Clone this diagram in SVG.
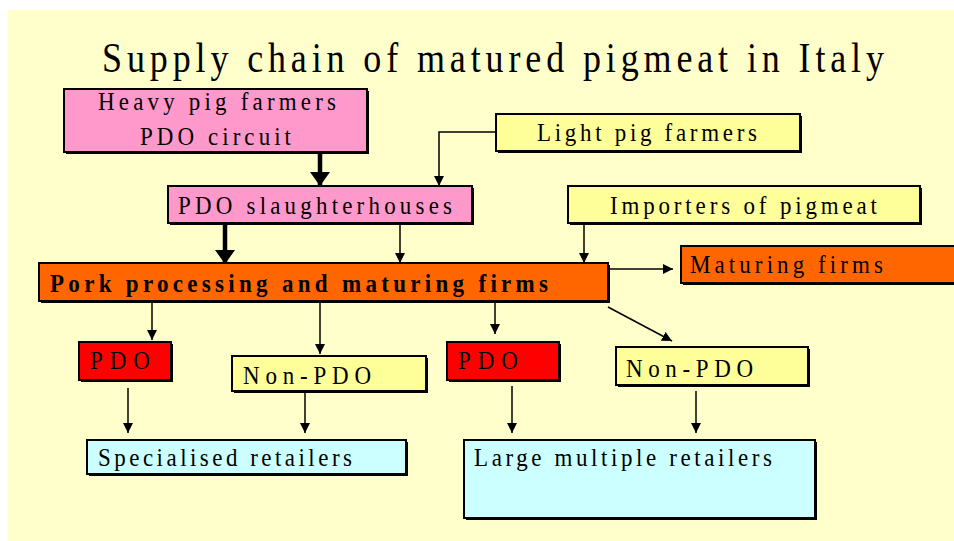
<svg xmlns="http://www.w3.org/2000/svg" width="954" height="541" viewBox="0 0 954 541">
  <defs>
    <marker id="arr" viewBox="0 0 10 10" refX="10" refY="5" markerWidth="10" markerHeight="10" markerUnits="userSpaceOnUse" orient="auto">
      <path d="M0,0 L10,5 L0,10 Z" fill="#000"/>
    </marker>
    <marker id="arrBig" viewBox="0 0 14 20" refX="14" refY="10" markerWidth="14" markerHeight="20" markerUnits="userSpaceOnUse" orient="auto">
      <path d="M0,0 L14,10 L0,20 Z" fill="#000"/>
    </marker>
  </defs>
  <style>
    .shadow { fill: #000; }
    .box { stroke: #000; stroke-width: 2; }
    .pink { fill: #FF99CC; }
    .yellow { fill: #FFFF99; }
    .orange { fill: #FF6600; }
    .red { fill: #FF0000; }
    .cyan { fill: #CCFFFF; }
    .lbl { font-family: "Liberation Serif", "DejaVu Serif", serif; font-size: 23px; fill: #000; }
    .bold { font-weight: bold; }
    .title { font-family: "Liberation Serif", "DejaVu Serif", serif; font-size: 36px; fill: #000; }
    .thin { stroke: #000; stroke-width: 1.5; fill: none; marker-end: url(#arr); }
    .thick { stroke: #000; stroke-width: 4.5; fill: none; marker-end: url(#arrBig); }
  </style>

  <!-- page -->
  <rect x="0" y="0" width="954" height="541" fill="#FFFFFF"/>
  <rect x="8" y="10" width="946" height="531" fill="#FFFFCC"/>

  <text class="title" transform="translate(102,72) scale(1,1.15)" textLength="782" lengthAdjust="spacing">Supply chain of matured pigmeat in Italy</text>

  <!-- connectors -->
  <g id="connectors">
    <path class="thick" d="M320,152 V186"/>
    <path class="thin" d="M496,132 H439 V186"/>
    <path class="thick" d="M225,223 V264"/>
    <path class="thin" d="M400,223 V263"/>
    <path class="thin" d="M584,223 V263"/>
    <path class="thin" d="M608,269 H673"/>
    <path class="thin" d="M152,301 V340"/>
    <path class="thin" d="M320,301 V354"/>
    <path class="thin" d="M495,301 V334"/>
    <path class="thin" d="M608,307 L672,341"/>
    <path class="thin" d="M128,388 V433"/>
    <path class="thin" d="M305,392 V433"/>
    <path class="thin" d="M512,386 V433"/>
    <path class="thin" d="M696,391 V433"/>
  </g>

  <g id="heavy-pig-farmers">
    <rect class="shadow" x="66" y="91" width="303" height="63"/>
    <rect class="box pink" x="64" y="89" width="303" height="63"/>
    <text class="lbl" transform="translate(98,110) scale(1,1.12)" textLength="238" lengthAdjust="spacing">Heavy pig farmers</text>
    <text class="lbl" transform="translate(140,145) scale(1,1.12)" textLength="151" lengthAdjust="spacing">PDO circuit</text>
  </g>

  <g id="light-pig-farmers">
    <rect class="shadow" x="498" y="116" width="304" height="37"/>
    <rect class="box yellow" x="496" y="114" width="304" height="37"/>
    <text class="lbl" transform="translate(537,141) scale(1,1.12)" textLength="220" lengthAdjust="spacing">Light pig farmers</text>
  </g>

  <g id="pdo-slaughterhouses">
    <rect class="shadow" x="170" y="188" width="304" height="37"/>
    <rect class="box pink" x="168" y="186" width="304" height="37"/>
    <text class="lbl" transform="translate(178,214) scale(1,1.12)" textLength="274" lengthAdjust="spacing">PDO slaughterhouses</text>
  </g>

  <g id="importers">
    <rect class="shadow" x="570" y="188" width="352" height="37"/>
    <rect class="box yellow" x="568" y="186" width="352" height="37"/>
    <text class="lbl" transform="translate(610,214) scale(1,1.12)" textLength="267" lengthAdjust="spacing">Importers of pigmeat</text>
  </g>

  <g id="maturing-firms">
    <rect class="shadow" x="683" y="248" width="280" height="37"/>
    <rect class="box orange" x="681" y="246" width="280" height="37"/>
    <text class="lbl" transform="translate(690,273) scale(1,1.12)" textLength="193" lengthAdjust="spacing">Maturing firms</text>
  </g>

  <g id="pork-processing">
    <rect class="shadow" x="41" y="265" width="569" height="38"/>
    <rect class="box orange" x="39" y="263" width="569" height="38"/>
    <text class="lbl bold" transform="translate(50,292) scale(1,1.12)" textLength="498" lengthAdjust="spacing">Pork processing and maturing firms</text>
  </g>

  <g id="pdo-1">
    <rect class="shadow" x="81" y="344" width="92" height="38"/>
    <rect class="box red" x="79" y="342" width="92" height="38"/>
    <text class="lbl" transform="translate(90,369) scale(1,1.12)" textLength="60" lengthAdjust="spacing">PDO</text>
  </g>

  <g id="non-pdo-1">
    <rect class="shadow" x="234" y="358" width="194" height="35"/>
    <rect class="box yellow" x="232" y="356" width="194" height="35"/>
    <text class="lbl" transform="translate(243,384) scale(1,1.12)" textLength="128" lengthAdjust="spacing">Non-PDO</text>
  </g>

  <g id="pdo-2">
    <rect class="shadow" x="449" y="344" width="112" height="38"/>
    <rect class="box red" x="447" y="342" width="112" height="38"/>
    <text class="lbl" transform="translate(458,369) scale(1,1.12)" textLength="60" lengthAdjust="spacing">PDO</text>
  </g>

  <g id="non-pdo-2">
    <rect class="shadow" x="618" y="349" width="192" height="38"/>
    <rect class="box yellow" x="616" y="347" width="192" height="38"/>
    <text class="lbl" transform="translate(626,377) scale(1,1.12)" textLength="127" lengthAdjust="spacing">Non-PDO</text>
  </g>

  <g id="specialised-retailers">
    <rect class="shadow" x="89" y="442" width="319" height="34"/>
    <rect class="box cyan" x="87" y="440" width="319" height="34"/>
    <text class="lbl" transform="translate(98,466) scale(1,1.12)" textLength="254" lengthAdjust="spacing">Specialised retailers</text>
  </g>

  <g id="large-multiple-retailers">
    <rect class="shadow" x="466" y="442" width="351" height="78"/>
    <rect class="box cyan" x="464" y="440" width="351" height="78"/>
    <text class="lbl" transform="translate(474,466) scale(1,1.12)" textLength="298" lengthAdjust="spacing">Large multiple retailers</text>
  </g>
</svg>
